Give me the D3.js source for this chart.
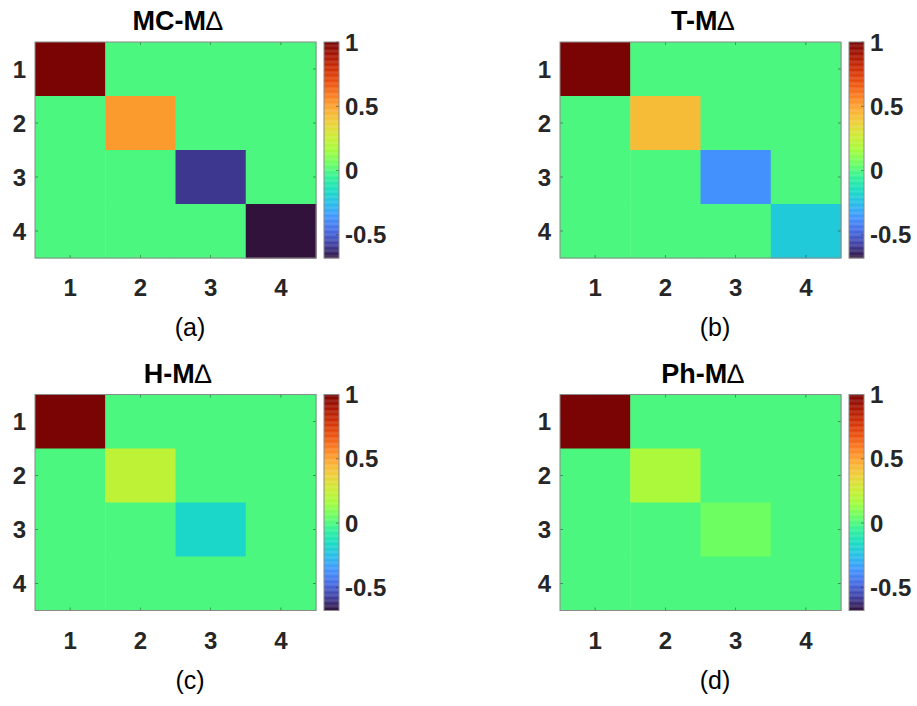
<!DOCTYPE html>
<html>
<head>
<meta charset="utf-8">
<script src="https://cdn.jsdelivr.net/npm/d3@7"></script>
<style>
  html, body { margin: 0; padding: 0; background: #fff; }
  svg { display: block; }
  text { font-family: "Liberation Sans", Arial, sans-serif; }
</style>
</head>
<body>
<svg id="chart" width="917" height="706"></svg>
<script>
// ---------------- data ----------------
const rowLabels = [1, 2, 3, 4];
const colLabels = [1, 2, 3, 4];
const panelTitles = ["MC-M", "T-M", "H-M", "Ph-M"];
const panelTags = ["(a)", "(b)", "(c)", "(d)"];

const mcM = [
  [1.00, 0.00, 0.00, 0.00],
  [0.00, 0.52, 0.00, 0.00],
  [0.00, 0.00, -0.59, 0.00],
  [0.00, 0.00, 0.00, -0.68]
];
const tM = [
  [1.00, 0.00, 0.00, 0.00],
  [0.00, 0.43, 0.00, 0.00],
  [0.00, 0.00, -0.37, 0.00],
  [0.00, 0.00, 0.00, -0.21]
];
const hM = [
  [1.00, 0.00, 0.00, 0.00],
  [0.00, 0.23, 0.00, 0.00],
  [0.00, 0.00, -0.17, 0.00],
  [0.00, 0.00, 0.00, 0.00]
];
const phM = [
  [1.00, 0.00, 0.00, 0.00],
  [0.00, 0.18, 0.00, 0.00],
  [0.00, 0.00, 0.06, 0.00],
  [0.00, 0.00, 0.00, 0.00]
];
const colorLimits = [-0.68, 1.0];
const colorbarTicks = [-0.5, 0, 0.5, 1];
const colorbarTickLabels = ["-0.5", "0", "0.5", "1"];

// ---------------- turbo colormap (anchors) ----------------
const turboAnchors = [
  [0.18995,0.07176,0.23217],[0.25107,0.25237,0.63374],[0.27628,0.42118,0.89123],
  [0.25862,0.57958,0.99876],[0.15844,0.73551,0.92305],[0.09267,0.86554,0.76230],
  [0.19659,0.94901,0.59466],[0.42778,0.99419,0.38575],[0.64362,0.98999,0.23356],
  [0.80473,0.92452,0.20459],[0.93301,0.81236,0.22667],[0.99314,0.67408,0.20348],
  [0.98360,0.49291,0.12849],[0.92105,0.31489,0.05475],[0.81608,0.18462,0.01809],
  [0.66449,0.08436,0.00424],[0.47960,0.01583,0.01055]
];
const turboIdx = [0,16,32,48,64,80,96,112,128,144,160,176,192,208,224,240,255];
const turbo = d3.scaleLinear()
  .domain(turboIdx.map(i => i / 255))
  .range(turboAnchors.map(c => d3.rgb(c[0]*255, c[1]*255, c[2]*255).toString()))
  .interpolate(d3.interpolateRgb)
  .clamp(true);
const NCOL = 256;
const tScale = d3.scaleLinear().domain(colorLimits).range([0, 1]).clamp(true);
function cmap(v) {
  let k = Math.floor(tScale(v) * NCOL);
  if (k > NCOL - 1) k = NCOL - 1;
  if (k < 0) k = 0;
  return turbo(k / (NCOL - 1));
}

// ---------------- layout ----------------
const panels = [
  { data: mcM, x0: 35,  y0: 42,    title: panelTitles[0], tag: panelTags[0] },
  { data: tM,  x0: 560, y0: 42,    title: panelTitles[1], tag: panelTags[1] },
  { data: hM,  x0: 35,  y0: 394.5, title: panelTitles[2], tag: panelTags[2] },
  { data: phM, x0: 560, y0: 394.5, title: panelTitles[3], tag: panelTags[3] }
];
const PW = 281, PH = 216;
const CB_GAP = 8, CB_W = 15;
const tickColor = "#262626";
const fontTick = 24;

const svg = d3.select("#chart");

panels.forEach(p => {
  const g = svg.append("g").attr("transform", `translate(${p.x0},${p.y0})`);
  const x = d3.scaleBand().domain(colLabels).range([0, PW]).padding(0);
  const y = d3.scaleBand().domain(rowLabels).range([0, PH]).padding(0);

  const cells = [];
  p.data.forEach((row, i) => row.forEach((v, j) => cells.push({ r: rowLabels[i], c: colLabels[j], v })));
  g.selectAll("rect.cell").data(cells).join("rect")
    .attr("class", "cell")
    .attr("x", d => x(d.c))
    .attr("y", d => y(d.r))
    .attr("width", x.bandwidth() + 0.5)
    .attr("height", y.bandwidth() + 0.5)
    .attr("fill", d => cmap(d.v));

  const tl = 3;
  colLabels.forEach(c => {
    const cx = x(c) + x.bandwidth() / 2;
    g.append("line").attr("x1", cx).attr("x2", cx).attr("y1", PH).attr("y2", PH - tl)
      .attr("stroke", tickColor).attr("stroke-width", 0.7).attr("opacity", 0.7);
    g.append("line").attr("x1", cx).attr("x2", cx).attr("y1", 0).attr("y2", tl)
      .attr("stroke", tickColor).attr("stroke-width", 0.7).attr("opacity", 0.7);
  });
  rowLabels.forEach(r => {
    const cy = y(r) + y.bandwidth() / 2;
    g.append("line").attr("x1", 0).attr("x2", tl).attr("y1", cy).attr("y2", cy)
      .attr("stroke", tickColor).attr("stroke-width", 0.7).attr("opacity", 0.7);
    g.append("line").attr("x1", PW).attr("x2", PW - tl).attr("y1", cy).attr("y2", cy)
      .attr("stroke", tickColor).attr("stroke-width", 0.7).attr("opacity", 0.7);
  });

  g.append("rect").attr("x", 0).attr("y", 0).attr("width", PW).attr("height", PH)
    .attr("fill", "none").attr("stroke", "#8a8a8a").attr("stroke-width", 1);

  g.selectAll("text.xt").data(colLabels).join("text")
    .attr("class", "xt")
    .attr("x", d => x(d) + x.bandwidth() / 2)
    .attr("y", PH + 38)
    .attr("text-anchor", "middle")
    .attr("font-size", fontTick).attr("font-weight", "bold").attr("fill", tickColor)
    .text(d => d);
  g.selectAll("text.yt").data(rowLabels).join("text")
    .attr("class", "yt")
    .attr("x", -9)
    .attr("y", d => y(d) + y.bandwidth() / 2)
    .attr("dy", "0.36em")
    .attr("text-anchor", "end")
    .attr("font-size", fontTick).attr("font-weight", "bold").attr("fill", tickColor)
    .text(d => d);

  const t = g.append("text")
    .attr("x", PW / 2 + 2).attr("y", -12)
    .attr("text-anchor", "middle")
    .attr("font-size", 27).attr("font-weight", "bold").attr("fill", "#000");
  t.append("tspan").text(p.title);
  t.append("tspan").attr("font-weight", "normal").text("\u2206");

  const cbx = PW + CB_GAP;
  const cy = d3.scaleLinear().domain(colorLimits).range([PH, 0]);
  const steps = d3.range(NCOL);
  const stepH = PH / NCOL;
  g.selectAll("rect.cb").data(steps).join("rect")
    .attr("class", "cb")
    .attr("x", cbx)
    .attr("y", k => PH - (k + 1) * stepH)
    .attr("width", CB_W)
    .attr("height", stepH + 0.3)
    .attr("fill", k => turbo(k / (NCOL - 1)));
  colorbarTicks.forEach(v => {
    g.append("line").attr("x1", cbx + CB_W).attr("x2", cbx + CB_W - 3)
      .attr("y1", cy(v)).attr("y2", cy(v))
      .attr("stroke", tickColor).attr("stroke-width", 0.7).attr("opacity", 0.7);
  });
  g.append("rect").attr("x", cbx).attr("y", 0).attr("width", CB_W).attr("height", PH)
    .attr("fill", "none").attr("stroke", "#8a8a8a").attr("stroke-width", 1);
  g.selectAll("text.cbt").data(colorbarTicks).join("text")
    .attr("class", "cbt")
    .attr("x", cbx + CB_W + 6)
    .attr("y", d => cy(d))
    .attr("dy", "0.36em")
    .attr("font-size", fontTick).attr("font-weight", "bold").attr("fill", tickColor)
    .text((d, i) => colorbarTickLabels[i]);

  g.append("text")
    .attr("x", 155).attr("y", PH + 78)
    .attr("text-anchor", "middle")
    .attr("font-size", 25).attr("fill", "#000")
    .text(p.tag);
});
</script>
</body>
</html>
